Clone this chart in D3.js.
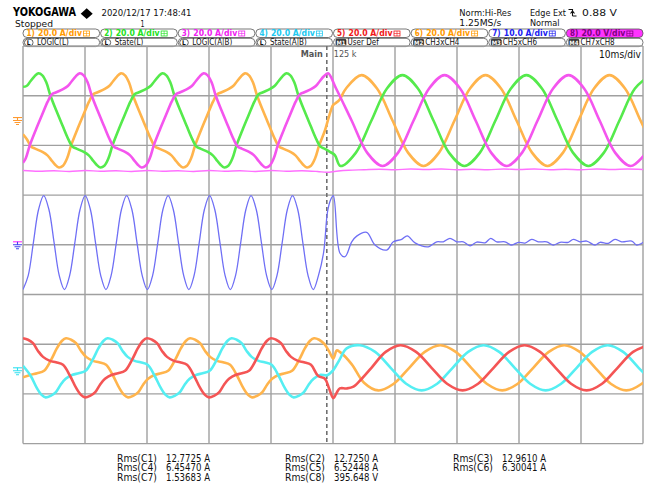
<!DOCTYPE html>
<html>
<head>
<meta charset="utf-8">
<script src="https://cdn.jsdelivr.net/npm/d3@7"></script>
<style>
  body { margin: 0; background: #fff; }
  svg { display: block; }
  text { font-family: "DejaVu Sans Condensed", "Liberation Sans", sans-serif; }
</style>
</head>
<body>
<svg id="scope" width="652" height="487"></svg>
<script>
// time in ms from left edge of screen (10 ms/div), values in A (V for ch8)
var ch1 = [[0,-5.5],[0.65,-7.6],[1.3,-10.5],[1.95,-11.3],[3.2,-12.7],[3.9,-13.9],[4.5,-15.7],[5.15,-17.7],[5.8,-18.9],[6.45,-18.2],[7.1,-15.3],[7.75,-10.1],[8.7,-4.0],[9.7,2.0],[10.65,7.6],[11.3,10.5],[11.95,11.3],[13.2,12.7],[13.9,13.9],[14.5,15.7],[15.15,17.7],[15.8,19.0],[16.45,18.2],[17.1,15.3],[17.75,10.1],[18.7,4.0],[19.7,-2.0],[20.65,-7.6],[21.3,-10.5],[21.95,-11.3],[23.2,-12.7],[23.9,-13.9],[24.5,-15.7],[25.15,-17.7],[25.8,-18.9],[26.45,-18.2],[27.1,-15.3],[27.75,-10.1],[28.7,-4.0],[29.7,2.0],[30.65,7.6],[31.3,10.5],[31.95,11.3],[33.2,12.7],[33.9,13.9],[34.5,15.7],[35.15,17.7],[35.8,19.0],[36.45,18.2],[37.1,15.3],[37.75,10.1],[38.7,4.0],[39.7,-2.0],[40.65,-7.6],[41.3,-10.5],[41.95,-11.3],[43.2,-12.7],[43.9,-13.9],[44.5,-15.7],[45.15,-17.7],[45.8,-18.9],[46.45,-18.2],[47.1,-15.3],[47.75,-10.1],[48.7,-4.0],[49.4,2.0],[50.0,6.2],[50.4,7.0],[51.0,8.2],[52.1,12.9],[54.6,18.3],[57.1,12.9],[59.6,0],[62.1,-12.9],[64.6,-18.3],[67.1,-12.9],[69.6,0],[72.1,12.9],[74.6,18.3],[77.1,12.9],[79.6,0],[82.1,-12.9],[84.6,-18.3],[87.1,-12.9],[89.6,0],[92.1,12.9],[94.6,18.3],[97.1,12.9],[99.6,0],[102.1,-12.9]];
var ch2 = [[0,13.6],[0.57,13.9],[1.17,15.7],[1.82,17.7],[2.47,19.0],[3.12,18.2],[3.77,15.3],[4.42,10.1],[5.37,4.0],[6.37,-2.0],[7.32,-7.6],[7.97,-10.5],[8.62,-11.3],[9.87,-12.7],[10.57,-13.9],[11.17,-15.7],[11.82,-17.7],[12.47,-18.9],[13.12,-18.2],[13.77,-15.3],[14.42,-10.1],[15.37,-4.0],[16.37,2.0],[17.32,7.6],[17.97,10.5],[18.62,11.3],[19.87,12.7],[20.57,13.9],[21.17,15.7],[21.82,17.7],[22.47,19.0],[23.12,18.2],[23.77,15.3],[24.42,10.1],[25.37,4.0],[26.37,-2.0],[27.32,-7.6],[27.97,-10.5],[28.62,-11.3],[29.87,-12.7],[30.57,-13.9],[31.17,-15.7],[31.82,-17.7],[32.47,-18.9],[33.12,-18.2],[33.77,-15.3],[34.42,-10.1],[35.37,-4.0],[36.37,2.0],[37.32,7.6],[37.97,10.5],[38.62,11.3],[39.87,12.7],[40.57,13.9],[41.17,15.7],[41.82,17.7],[42.47,19.0],[43.12,18.2],[43.77,15.3],[44.42,10.1],[45.37,4.0],[46.37,-2.0],[47.32,-7.6],[47.97,-10.5],[48.62,-11.3],[49.5,-12.6],[50.3,-13.9],[51.2,-18.3],[53.7,-12.9],[56.2,0],[58.7,12.9],[61.2,18.3],[63.7,12.9],[66.2,0],[68.7,-12.9],[71.2,-18.3],[73.7,-12.9],[76.2,0],[78.7,12.9],[81.2,18.3],[83.7,12.9],[86.2,0],[88.7,-12.9],[91.2,-18.3],[93.7,-12.9],[96.2,0],[98.7,12.9],[101.2,18.3]];
var ch3 = [[0,-17.0],[0.43,-15.3],[1.08,-10.1],[2.03,-4.0],[3.03,2.0],[3.98,7.6],[4.63,10.5],[5.28,11.3],[6.53,12.7],[7.23,13.9],[7.83,15.7],[8.48,17.7],[9.13,19.0],[9.78,18.2],[10.43,15.3],[11.08,10.1],[12.03,4.0],[13.03,-2.0],[13.98,-7.6],[14.63,-10.5],[15.28,-11.3],[16.53,-12.7],[17.23,-13.9],[17.83,-15.7],[18.48,-17.7],[19.13,-18.9],[19.78,-18.2],[20.43,-15.3],[21.08,-10.1],[22.03,-4.0],[23.03,2.0],[23.98,7.6],[24.63,10.5],[25.28,11.3],[26.53,12.7],[27.23,13.9],[27.83,15.7],[28.48,17.7],[29.13,19.0],[29.78,18.2],[30.43,15.3],[31.08,10.1],[32.03,4.0],[33.03,-2.0],[33.98,-7.6],[34.63,-10.5],[35.28,-11.3],[36.53,-12.7],[37.23,-13.9],[37.83,-15.7],[38.48,-17.7],[39.13,-18.9],[39.78,-18.2],[40.43,-15.3],[41.08,-10.1],[42.03,-4.0],[43.03,2.0],[43.98,7.6],[44.63,10.5],[45.28,11.3],[46.53,12.7],[47.23,13.9],[47.83,15.7],[48.48,17.7],[49.2,19.0],[50.5,12.9],[53.0,0],[55.5,-12.9],[58.0,-18.3],[60.5,-12.9],[63.0,0],[65.5,12.9],[68.0,18.3],[70.5,12.9],[73.0,0],[75.5,-12.9],[78.0,-18.3],[80.5,-12.9],[83.0,0],[85.5,12.9],[88.0,18.3],[90.5,12.9],[93.0,0],[95.5,-12.9],[98.0,-18.3],[100.5,-12.9]];
var ch4 = [[0,0.8],[1.23,-3.2],[2.2,-8.0],[3.0,-10.9],[3.65,-11.9],[4.46,-11.3],[5.26,-9.9],[6.07,-6.8],[6.88,-4.4],[8.0,-2.8],[8.97,-2.2],[10.1,-1.2],[11.23,3.2],[12.2,8.0],[13.0,10.9],[13.65,11.9],[14.46,11.3],[15.26,9.9],[16.07,6.8],[16.88,4.4],[18.0,2.8],[18.97,2.2],[20.1,1.2],[21.23,-3.2],[22.2,-8.0],[23.0,-10.9],[23.65,-11.9],[24.46,-11.3],[25.26,-9.9],[26.07,-6.8],[26.88,-4.4],[28.0,-2.8],[28.97,-2.2],[30.1,-1.2],[31.23,3.2],[32.2,8.0],[33.0,10.9],[33.65,11.9],[34.46,11.3],[35.26,9.9],[36.07,6.8],[36.88,4.4],[38.0,2.8],[38.97,2.2],[40.1,1.2],[41.23,-3.2],[42.2,-8.0],[43.0,-10.9],[43.65,-11.9],[44.46,-11.3],[45.26,-9.9],[46.07,-6.8],[46.88,-4.4],[48.0,-2.8],[49.0,-3.0],[50.05,-0.9],[51.0,3.0],[52.2,7.8],[54.3,9.1],[56.8,6.4],[59.3,0],[61.8,-6.4],[64.3,-9.1],[66.8,-6.4],[69.3,0],[71.8,6.4],[74.3,9.1],[76.8,6.4],[79.3,0],[81.8,-6.4],[84.3,-9.1],[86.8,-6.4],[89.3,0],[91.8,6.4],[94.3,9.1],[96.8,6.4],[99.3,0],[101.8,-6.4]];
var ch5 = [[0,11.9],[0.81,11.3],[1.61,9.9],[2.42,6.8],[3.23,4.4],[4.35,2.8],[5.32,2.2],[6.45,1.2],[7.58,-3.2],[8.55,-8.0],[9.35,-10.9],[10.0,-11.9],[10.81,-11.3],[11.61,-9.9],[12.42,-6.8],[13.23,-4.4],[14.35,-2.8],[15.32,-2.2],[16.45,-1.2],[17.58,3.2],[18.55,8.0],[19.35,10.9],[20.0,11.9],[20.81,11.3],[21.61,9.9],[22.42,6.8],[23.23,4.4],[24.35,2.8],[25.32,2.2],[26.45,1.2],[27.58,-3.2],[28.55,-8.0],[29.35,-10.9],[30.0,-11.9],[30.81,-11.3],[31.61,-9.9],[32.42,-6.8],[33.23,-4.4],[34.35,-2.8],[35.32,-2.2],[36.45,-1.2],[37.58,3.2],[38.55,8.0],[39.35,10.9],[40.0,11.9],[40.81,11.3],[41.61,9.9],[42.42,6.8],[43.23,4.4],[44.35,2.8],[45.32,2.2],[46.45,1.2],[47.58,-3.2],[48.7,-4.4],[49.4,-8.5],[50.05,-12.2],[50.6,-10.0],[51.1,-8.3],[52.2,-8.3],[53.3,-7.6],[54.6,-4.5],[56.2,0],[58.5,6.4],[60.9,9.1],[63.4,6.4],[65.9,0],[68.4,-6.4],[70.9,-9.1],[73.4,-6.4],[75.9,0],[78.4,6.4],[80.9,9.1],[83.4,6.4],[85.9,0],[88.4,-6.4],[90.9,-9.1],[93.4,-6.4],[95.9,0],[98.4,6.4],[100.9,9.1]];
var ch6 = [[0,-3.8],[1.3,-2.8],[2.27,-2.2],[3.4,-1.2],[4.53,3.2],[5.5,8.0],[6.3,10.9],[6.95,11.9],[7.76,11.3],[8.56,9.9],[9.37,6.8],[10.18,4.4],[11.3,2.8],[12.27,2.2],[13.4,1.2],[14.53,-3.2],[15.5,-8.0],[16.3,-10.9],[16.95,-11.9],[17.76,-11.3],[18.56,-9.9],[19.37,-6.8],[20.18,-4.4],[21.3,-2.8],[22.27,-2.2],[23.4,-1.2],[24.53,3.2],[25.5,8.0],[26.3,10.9],[26.95,11.9],[27.76,11.3],[28.56,9.9],[29.37,6.8],[30.18,4.4],[31.3,2.8],[32.27,2.2],[33.4,1.2],[34.53,-3.2],[35.5,-8.0],[36.3,-10.9],[36.95,-11.9],[37.76,-11.3],[38.56,-9.9],[39.37,-6.8],[40.18,-4.4],[41.3,-2.8],[42.27,-2.2],[43.4,-1.2],[44.53,3.2],[45.5,8.0],[46.3,10.9],[46.95,11.9],[47.76,11.3],[48.6,9.6],[49.4,6.5],[50.05,3.7],[50.6,7.0],[51.1,6.4],[53.0,1.5],[55.0,-6.0],[57.3,-9.1],[59.8,-6.4],[62.3,0],[64.8,6.4],[67.3,9.1],[69.8,6.4],[72.3,0],[74.8,-6.4],[77.3,-9.1],[79.8,-6.4],[82.3,0],[84.8,6.4],[87.3,9.1],[89.8,6.4],[92.3,0],[94.8,-6.4],[97.3,-9.1],[99.8,-6.4],[102.3,0]];
var ch7 = [[0,-9.0],[0.84,-6.2],[1.67,0.4],[2.51,7.1],[3.34,9.9],[4.18,7.1],[5.02,0.4],[5.85,-6.2],[6.69,-9.0],[7.52,-6.2],[8.36,0.4],[9.2,7.1],[10.03,9.9],[10.87,7.1],[11.7,0.4],[12.54,-6.2],[13.38,-9.0],[14.21,-6.2],[15.05,0.4],[15.88,7.1],[16.72,9.9],[17.56,7.1],[18.39,0.4],[19.23,-6.2],[20.06,-9.0],[20.9,-6.2],[21.74,0.4],[22.57,7.1],[23.41,9.9],[24.24,7.1],[25.08,0.4],[25.92,-6.2],[26.75,-9.0],[27.59,-6.2],[28.42,0.4],[29.26,7.1],[30.1,9.9],[30.93,7.1],[31.77,0.4],[32.6,-6.2],[33.44,-9.0],[34.28,-6.2],[35.11,0.4],[35.95,7.1],[36.78,9.9],[37.62,7.1],[38.46,0.4],[39.29,-6.2],[40.13,-9.0],[40.96,-6.2],[41.8,0.4],[42.64,7.1],[43.47,9.9],[44.31,7.1],[45.14,0.4],[45.98,-6.2],[46.82,-9.0],[47.65,-6.2],[48.49,-1.5],[49.1,6.5],[49.6,9.0],[50.05,9.9],[51.13,-1.7],[51.94,-2.4],[53.02,0.6],[53.82,1.75],[55.44,2.5],[56.77,-0.05],[58.66,-1.05],[59.73,0.6],[61.08,1.1],[61.98,1.8],[63.23,0.4],[65.37,-0.4],[66.73,0.6],[67.79,0.6],[68.87,1.3],[69.95,0.6],[71.02,0.6],[72.1,-0.2],[73.18,0.55],[74.52,0.4],[75.44,1.3],[76.4,0.6],[77.74,0.6],[78.82,-0.05],[79.89,0.5],[80.97,0.35],[82.05,1.1],[83.11,0.6],[84.47,0.6],[85.53,-0.05],[86.61,0.5],[87.95,0.5],[88.76,1.1],[89.84,0.6],[90.92,0.75],[92.26,-0.05],[93.06,0.5],[94.4,0.3],[95.48,1.1],[96.56,0.6],[98.18,0.75],[98.98,-0.05],[100.05,0.5]];
var ch8 = [[0,-20.1],[2.5,-20.4],[5,-20.2],[7.5,-20.5],[10,-20.1],[12.5,-20.4],[15,-20.2],[17.5,-20.5],[20,-20.1],[22.5,-20.4],[25,-20.2],[27.5,-20.5],[30,-20.1],[32.5,-20.4],[35,-20.2],[37.5,-20.5],[40,-20.1],[42.5,-20.4],[45,-20.2],[47.5,-20.5],[49,-20.8],[50.5,-20.4],[52.5,-20.0],[55,-19.8],[57.5,-19.6],[60,-19.8],[62.5,-19.5],[65,-19.7],[67.5,-19.5],[70,-19.8],[72.5,-19.6],[75,-19.8],[77.5,-19.5],[80,-19.7],[82.5,-19.5],[85,-19.8],[87.5,-19.6],[90,-19.8],[92.5,-19.5],[95,-19.7],[97.5,-19.5],[100,-19.7]];

var chanNums = ["1", "2", "3", "4", "5", "6", "7", "8"];
var chanScales = ["20.0 A/div", "20.0 A/div", "20.0 A/div", "20.0 A/div", "20.0 A/div", "20.0 A/div", "10.0 A/div", "20.0 V/div"];
var chanColors = ["#ff9900", "#22e022", "#f020f0", "#20c8f0", "#f01818", "#ff9900", "#2020f0", "#800080"];
var mathTags = ["L", "L", "L", "L", "M1", "M2", "M3", "M4"];
var mathNames = ["LOGIC(L)", "State(L)", "LOGIC(A|B)", "State(A|B)", "User Def", "CH3xCH4", "CH5xCH6", "CH7xCH8"];
var rmsNames = ["Rms(C1)", "Rms(C2)", "Rms(C3)", "Rms(C4)", "Rms(C5)", "Rms(C6)", "Rms(C7)", "Rms(C8)"];
var rmsValues = ["12.7725 A", "12.7250 A", "12.9610 A", "6.45470 A", "6.52448 A", "6.30041 A", "1.53683 A", "395.648 V"];

var svg = d3.select("#scope");

var x = d3.scaleLinear().domain([0, 100]).range([23, 643]);
var divY = d3.scaleLinear().domain([0, 8]).range([46, 443.6]);
var yTop = d3.scaleLinear().domain([-20, 20]).range([divY(2.5), divY(0.5)]);
var yMid = d3.scaleLinear().domain([-10, 10]).range([divY(5), divY(3)]);
var yLow = d3.scaleLinear().domain([-20, 20]).range([divY(7.475), divY(5.475)]);

// ---- header ----
svg.append("text").attr("x", 13).attr("y", 16.3)
  .attr("font-family", "Liberation Sans").attr("font-weight", "bold")
  .attr("font-size", 11.5).attr("textLength", 63).attr("lengthAdjust", "spacingAndGlyphs")
  .text("YOKOGAWA");
svg.append("path").attr("d", "M86.7,8.3L92.7,13.7L86.7,19.1L80.7,13.7Z").attr("fill", "#000");

var hdr = [
  { t: "2020/12/17  17:48:41", x: 101.5, y: 16.2, w: 90 },
  { t: "Stopped", x: 15, y: 27, w: 38 },
  { t: "1", x: 140.5, y: 26.5, w: 4 },
  { t: "Norm:Hi-Res", x: 459.3, y: 16, w: 52 },
  { t: "1.25MS/s", x: 459.3, y: 26, w: 42 },
  { t: "Edge Ext", x: 530, y: 16, w: 36 },
  { t: "0.88 V", x: 582, y: 16, w: 35 },
  { t: "Normal", x: 530, y: 26, w: 29.5 }
];
svg.selectAll("text.hdr").data(hdr).join("text").attr("class", "hdr")
  .attr("x", d => d.x).attr("y", d => d.y)
  .attr("font-size", d => d.t === "Stopped" ? 8.8 : 9).attr("fill", "#111")
  .attr("textLength", d => d.w).attr("lengthAdjust", "spacingAndGlyphs")
  .text(d => d.t);
// falling edge symbol
svg.append("path").attr("d", "M568.5,9.5L572.5,9.5L572.5,16M572.5,16L576.5,16M570.5,13.5L572.5,11L574.5,13.5")
  .attr("fill", "none").attr("stroke", "#111").attr("stroke-width", 1.1);

// ---- channel label boxes ----
var band = d3.scaleBand().domain(d3.range(8)).range([22.5, 643.5]);
var row1 = svg.selectAll("g.r1").data(chanNums).join("g").attr("class", "r1")
  .attr("transform", (d, i) => "translate(" + band(i) + ",29)");
row1.append("rect").attr("x", 0.5).attr("y", 0).attr("width", band.bandwidth() - 1).attr("height", 8.5)
  .attr("rx", 4).attr("fill", (d, i) => i === 7 ? "#ff33ff" : "#fff")
  .attr("stroke", "#555").attr("stroke-width", 0.8);
row1.append("text").attr("x", 4).attr("y", 7.4).attr("font-size", 8)
  .attr("font-family", "DejaVu Sans Mono").attr("font-weight", "bold")
  .attr("fill", (d, i) => chanColors[i]).text(d => d + ")");
row1.append("text").attr("x", 15.5).attr("y", 7.4).attr("font-size", 8)
  .attr("font-family", "DejaVu Sans Mono").attr("font-weight", "bold")
  .attr("textLength", 44).attr("lengthAdjust", "spacingAndGlyphs")
  .attr("fill", (d, i) => chanColors[i]).text((d, i) => chanScales[i]);
row1.append("rect").attr("x", 61).attr("y", 2).attr("width", 6).attr("height", 5)
  .attr("fill", "none").attr("stroke", (d, i) => chanColors[i]).attr("stroke-width", 0.8);
row1.append("path").attr("d", "M61,4.5H67M64,2V7")
  .attr("stroke", (d, i) => chanColors[i]).attr("stroke-width", 0.6);

var row2 = svg.selectAll("g.r2").data(mathNames).join("g").attr("class", "r2")
  .attr("transform", (d, i) => "translate(" + band(i) + ",38.3)");
row2.append("rect").attr("x", 0.5).attr("y", 0).attr("width", band.bandwidth() - 1).attr("height", 8.3)
  .attr("rx", 4).attr("fill", "#fff").attr("stroke", "#555").attr("stroke-width", 0.8);
row2.append("rect").attr("x", (d, i) => i < 4 ? 2 : 3).attr("y", 1).attr("width", (d, i) => i < 4 ? 8.5 : 10)
  .attr("height", 6.5).attr("rx", (d, i) => i < 4 ? 3 : 1)
  .attr("fill", (d, i) => i < 4 ? "#fff" : "#333").attr("stroke", "#222").attr("stroke-width", 0.7);
row2.append("text").attr("x", (d, i) => i < 4 ? 6.2 : 8).attr("y", 6.6).attr("text-anchor", "middle")
  .attr("font-size", (d, i) => i < 4 ? 6.5 : 6).attr("font-weight", "bold")
  .attr("fill", (d, i) => i < 4 ? "#111" : "#fff").text((d, i) => mathTags[i]);
row2.append("text").attr("x", 14.5).attr("y", 7).attr("font-size", 8)
  .attr("fill", "#111").text(d => d);

// ---- graticule ----
var grid = svg.append("g");
grid.selectAll("line.v").data(d3.range(0, 101, 10)).join("line").attr("class", "v")
  .attr("x1", d => x(d)).attr("x2", d => x(d)).attr("y1", divY(0)).attr("y2", divY(8))
  .attr("stroke", "#a0a0a0").attr("stroke-width", 1.4);
grid.selectAll("line.h").data(d3.range(0, 9)).join("line").attr("class", "h")
  .attr("x1", x(0)).attr("x2", x(100)).attr("y1", d => divY(d)).attr("y2", d => divY(d))
  .attr("stroke", "#a0a0a0").attr("stroke-width", 1.4);

svg.append("defs").append("clipPath").attr("id", "clip").append("rect")
  .attr("x", x(0)).attr("y", divY(0)).attr("width", x(100) - x(0)).attr("height", divY(8) - divY(0));

// trigger position
var trig = 49.0;
svg.append("line").attr("x1", x(trig)).attr("x2", x(trig)).attr("y1", divY(0)).attr("y2", divY(8))
  .attr("stroke", "#707070").attr("stroke-width", 1.6).attr("stroke-dasharray", "4,3");
svg.append("text").attr("x", x(trig) - 4).attr("y", 56.5).attr("text-anchor", "end")
  .attr("font-size", 9).attr("font-weight", "bold").attr("fill", "#555").text("Main");
svg.append("text").attr("x", x(trig) + 7).attr("y", 56.5)
  .attr("font-size", 9).attr("fill", "#555").text("125  k");
svg.append("text").attr("x", 641).attr("y", 57.5).attr("text-anchor", "end")
  .attr("font-size", 11).attr("fill", "#111").attr("textLength", 42).attr("lengthAdjust", "spacingAndGlyphs")
  .text("10ms/div");

// ---- traces ----
var traces = [
  { data: ch8, y: yTop, color: "#ff70ff", w: 1.4 },
  { data: ch1, y: yTop, color: "#ffb44c", w: 2.6 },
  { data: ch2, y: yTop, color: "#55ea4c", w: 2.6 },
  { data: ch3, y: yTop, color: "#f455ee", w: 2.6 },
  { data: ch7, y: yMid, color: "#6f6ff5", w: 1.3 },
  { data: ch6, y: yLow, color: "#ffb44c", w: 2.6 },
  { data: ch4, y: yLow, color: "#55eef2", w: 2.6 },
  { data: ch5, y: yLow, color: "#f45555", w: 2.6 }
];
var plot = svg.append("g").attr("clip-path", "url(#clip)");
plot.selectAll("path").data(traces).join("path")
  .attr("fill", "none").attr("stroke", d => d.color).attr("stroke-width", d => d.w)
  .attr("stroke-linejoin", "round")
  .attr("d", d => d3.line().x(p => x(p[0])).y(p => d.y(p[1])).curve(d3.curveCatmullRom.alpha(0.5))(d.data));

// ground markers
var gnd = [
  { y: yTop(0), color: "#ff9a30", top: "#ff9a30" },
  { y: yMid(0), color: "#4040f0", top: "#ff30ff" },
  { y: yLow(0) + 3, color: "#30e0f0", top: "#30e0f0" }
];
var gm = svg.selectAll("g.gnd").data(gnd).join("g").attr("class", "gnd")
  .attr("transform", d => "translate(0," + d.y + ")");
gm.append("path").attr("d", "M13,-3H22").attr("stroke", d => d.top).attr("stroke-width", 1.1);
gm.append("path").attr("d", "M17.5,-3V0M13,0H22M14.5,2H20.5M16,4H19")
  .attr("stroke", d => d.color).attr("stroke-width", 1.1).attr("fill", "none");

// ---- measurements ----
var rms = svg.selectAll("g.rms").data(rmsNames).join("g").attr("class", "rms")
  .attr("transform", (d, i) => "translate(" + (117 + 168 * (i % 3)) + "," + (461.5 + 9.8 * Math.floor(i / 3)) + ")");
rms.append("text").attr("font-size", 10).attr("fill", "#111")
  .attr("textLength", 40).attr("lengthAdjust", "spacingAndGlyphs").text(d => d);
rms.append("text").attr("x", 49).attr("font-size", 10).attr("fill", "#111")
  .attr("textLength", 44).attr("lengthAdjust", "spacingAndGlyphs").text((d, i) => rmsValues[i]);
</script>
</body>
</html>
